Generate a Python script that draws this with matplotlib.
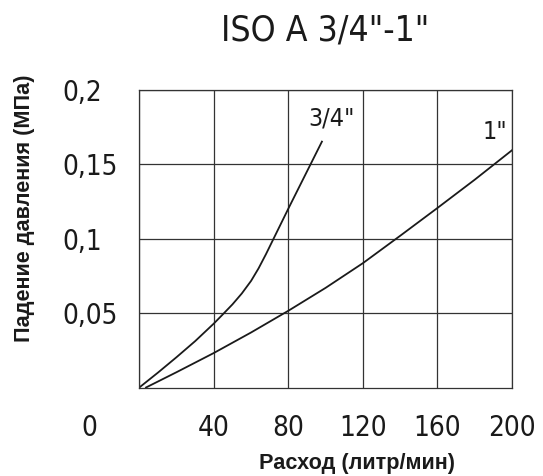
import matplotlib
matplotlib.use('Agg')
import matplotlib.pyplot as plt
from matplotlib.transforms import ScaledTranslation

# ---- data ----
flow_34 = [0, 10, 20, 30, 40, 45, 50, 55, 60, 64, 68, 72, 80, 90, 98]
drop_34 = [0, 0.0100, 0.0204, 0.0312, 0.0430, 0.0494, 0.0559, 0.0632, 0.0717,
           0.0801, 0.0897, 0.0999, 0.1203, 0.1453, 0.1653]

flow_1 = [3.6, 20, 40, 60, 80, 100, 120, 140, 160, 180, 200]
drop_1 = [0, 0.0103, 0.0232, 0.0370, 0.0516, 0.0670, 0.0836, 0.1020, 0.1207, 0.1397, 0.1595]

x_ticks = [0, 40, 80, 120, 160, 200]
x_tick_labels = ['0', '40', '80', '120', '160', '200']
y_ticks = [0.05, 0.1, 0.15, 0.2]
y_tick_labels = ['0,05', '0,1', '0,15', '0,2']

title_text = 'ISO A 3/4"-1"'
x_label = 'Расход (литр/мин)'
y_label = 'Падение давления (МПа)'
series_names = ['3/4"', '1"']
series_label_pos = [(103.2, 0.1811), (190.9, 0.1717)]

# ---- figure ----
W, H = 543, 476
fig = plt.figure(figsize=(W / 100, H / 100), dpi=100)
L, R, T, B = 139.3, 512.0, 90.0, 387.5
ax = fig.add_axes([L / W, 1 - B / H, (R - L) / W, (B - T) / H])
ax.set_xlim(0, 200)
ax.set_ylim(0, 0.2)

num_font = dict(family=['DejaVu Sans'], stretch='condensed')
bold_font = dict(family=['Liberation Sans Narrow', 'Liberation Sans', 'DejaVu Sans'], weight='bold')

line_col = '#1a1a1a'
ax.plot(flow_34, drop_34, color=line_col, lw=1.3, solid_joinstyle='round')
ax.plot(flow_1, drop_1, color=line_col, lw=1.3, solid_joinstyle='round')

for name, (px, py) in zip(series_names, series_label_pos):
    ax.text(px, py, name, ha='center', va='center', fontsize=18, color='#1a1a1a', **num_font)

ax.set_xticks(x_ticks)
ax.set_xticklabels(x_tick_labels, fontsize=20, color='#1a1a1a', **num_font)
ax.set_yticks(y_ticks)
ax.set_yticklabels(y_tick_labels, fontsize=20, color='#1a1a1a', **num_font)
ax.tick_params(axis='both', length=0)
ax.tick_params(axis='x', pad=19)
ax.tick_params(axis='y', pad=55.7)
for lab in ax.get_yticklabels():
    lab.set_horizontalalignment('left')
# the "0" on the x axis sits far to the left of the corner
xl = ax.get_xticklabels()
xl[0].set_transform(xl[0].get_transform() + ScaledTranslation(-50.3 / 100, 0, fig.dpi_scale_trans))

ax.grid(True, color='#333333', lw=0.9)
for sp in ax.spines.values():
    sp.set_color('#333333')
    sp.set_linewidth(0.9)

ax.set_xlabel(x_label, fontsize=15.6, color='#1a1a1a', va='center', **bold_font)
ax.xaxis.set_label_coords((357 - L) / (R - L), (B - 463) / (B - T))
ax.set_ylabel(y_label, fontsize=15.6, color='#1a1a1a', va='center', **bold_font)
ax.yaxis.set_label_coords((25 - L) / (R - L), (B - 208.5) / (B - T))

fig.text(325.5 / W, 1 - 30 / H, title_text, ha='center', va='center', fontsize=25.5,
         color='#1a1a1a', **num_font)

fig.savefig('out.png', dpi=100)
